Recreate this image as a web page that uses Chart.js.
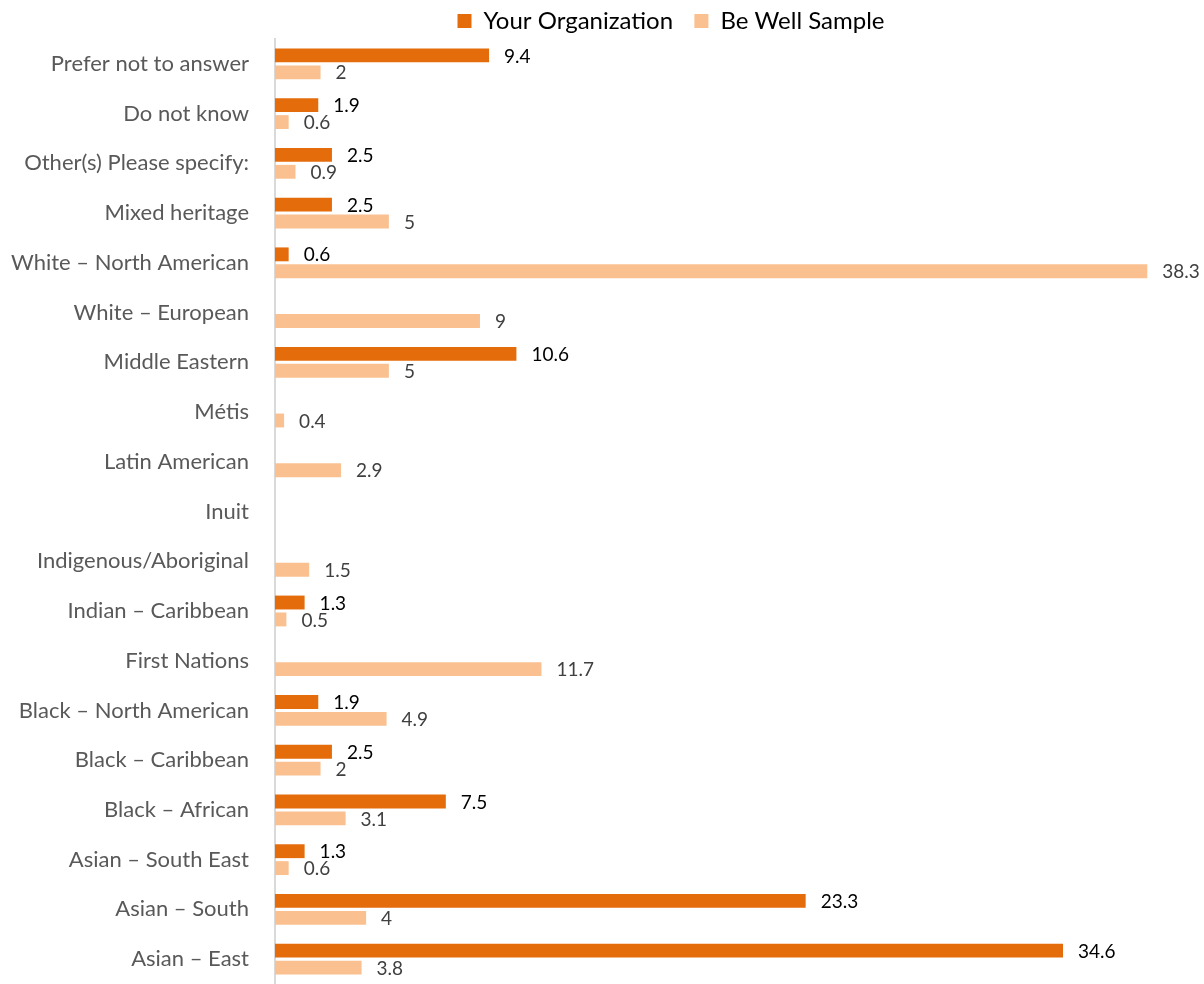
<!DOCTYPE html>
<html>
<head>
<meta charset="utf-8">
<script src="https://cdn.jsdelivr.net/npm/chart.js@4"></script>
<style>
  body { margin: 0; background: #fff; }
  #wrap { width: 1204px; height: 984px; }
</style>
</head>
<body>
<div id="wrap"><canvas id="myChart" width="1204" height="984"></canvas></div>
<script>
const categories = [
  "Prefer not to answer",
  "Do not know",
  "Other(s) Please specify:",
  "Mixed heritage",
  "White \u2013 North American",
  "White \u2013 European",
  "Middle Eastern",
  "Métis",
  "Latin American",
  "Inuit",
  "Indigenous/Aboriginal",
  "Indian \u2013 Caribbean",
  "First Nations",
  "Black \u2013 North American",
  "Black \u2013 Caribbean",
  "Black \u2013 African",
  "Asian \u2013 South East",
  "Asian \u2013 South",
  "Asian \u2013 East",
];
const yourOrganization = [9.4, 1.9, 2.5, 2.5, 0.6, null, 10.6, null, null, null, null, 1.3, null, 1.9, 2.5, 7.5, 1.3, 23.3, 34.6];
const beWellSample = [2, 0.6, 0.9, 5, 38.3, 9, 5, 0.4, 2.9, null, 1.5, 0.5, 11.7, 4.9, 2, 3.1, 0.6, 4, 3.8];

const FONT = "Lato, 'Open Sans', sans-serif";

// draws the value next to each bar
const valueLabels = {
  id: "valueLabels",
  afterDatasetsDraw(chart) {
    const c = chart.ctx;
    c.save();
    c.font = "19px " + FONT;
    c.textBaseline = "middle";
    c.textAlign = "left";
    chart.data.datasets.forEach((ds, i) => {
      const meta = chart.getDatasetMeta(i);
      c.fillStyle = i === 0 ? "#000000" : "#404040";
      meta.data.forEach((bar, j) => {
        const v = ds.data[j];
        if (v === null || v === undefined) return;
        c.fillText(String(v), bar.x + 15, bar.y + 1);
      });
    });
    c.restore();
  },
};

// legend a little shorter (plot starts higher) and nudged right
const legendTweak = {
  id: "legendTweak",
  beforeLayout(chart) {
    const lg = chart.legend;
    if (!lg || lg._tweaked) return;
    const fit = lg.fit;
    const draw = lg.draw;
    lg.fit = function () {
      fit.call(this);
      this.height -= 4;
    };
    lg.draw = function () {
      this.ctx.save();
      this.ctx.translate(78, 0);
      draw.call(this);
      this.ctx.restore();
    };
    lg._tweaked = true;
  },
};

const ctx = document.getElementById("myChart");

new Chart(ctx, {
  type: "bar",
  data: {
    labels: categories,
    datasets: [
      {
        label: "Your Organization",
        data: yourOrganization,
        backgroundColor: "#E46C0A",
        categoryPercentage: 0.68,
        barPercentage: 0.82,
      },
      {
        label: "Be Well Sample",
        data: beWellSample,
        backgroundColor: "#FAC090",
        categoryPercentage: 0.68,
        barPercentage: 0.82,
      },
    ],
  },
  options: {
    indexAxis: "y",
    responsive: false,
    animation: false,
    layout: {
      padding: { left: 0, right: 18, top: 0, bottom: 0 },
    },
    plugins: {
      legend: {
        position: "top",
        labels: {
          color: "#000000",
          font: { family: FONT, size: 24 },
          boxWidth: 14,
          boxHeight: 14,
          padding: 9,
          generateLabels(chart) {
            const items = Chart.defaults.plugins.legend.labels.generateLabels(chart);
            items[0].text = items[0].text + "  ";
            return items;
          },
        },
      },
      tooltip: { enabled: false },
    },
    scales: {
      x: {
        display: false,
        min: 0,
        max: 40,
      },
      y: {
        grid: { display: false, drawTicks: false },
        border: { display: true, color: "#d9d9d9", width: 2 },
        ticks: {
          color: "#595959",
          font: { family: FONT, size: 22 },
          padding: 26,
          autoSkip: false,
        },
        afterFit(scale) {
          scale.width = 275;
          scale.paddingTop = 0;
          scale.paddingBottom = 0;
        },
      },
    },
  },
  plugins: [valueLabels, legendTweak],
});
</script>
</body>
</html>
